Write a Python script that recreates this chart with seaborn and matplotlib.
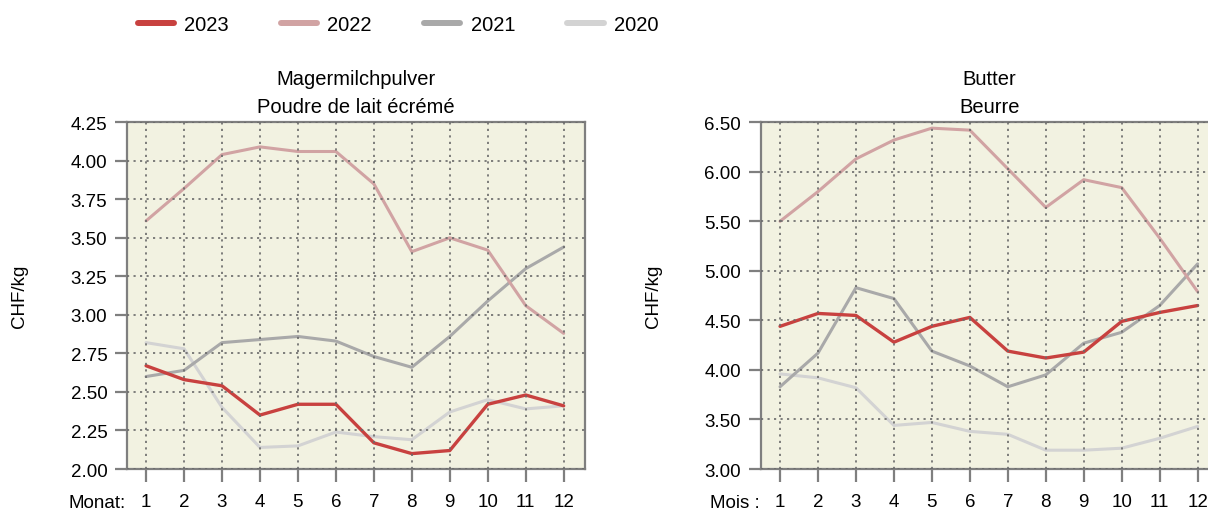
import pandas as pd
import matplotlib
matplotlib.use('Agg')
import matplotlib.pyplot as plt
from matplotlib.lines import Line2D
import seaborn as sns

# Monthly prices CHF/kg
months = list(range(1, 13))
years = ['2023', '2022', '2021', '2020']

smp_2023 = [2.67, 2.58, 2.54, 2.35, 2.42, 2.42, 2.17, 2.10, 2.12, 2.42, 2.48, 2.41]
smp_2022 = [3.61, 3.82, 4.04, 4.09, 4.06, 4.06, 3.85, 3.41, 3.50, 3.42, 3.06, 2.88]
smp_2021 = [2.60, 2.64, 2.82, 2.84, 2.86, 2.83, 2.73, 2.66, 2.86, 3.09, 3.30, 3.44]
smp_2020 = [2.82, 2.78, 2.40, 2.14, 2.15, 2.24, 2.21, 2.19, 2.37, 2.45, 2.39, 2.41]

butter_2023 = [4.44, 4.57, 4.55, 4.28, 4.44, 4.53, 4.19, 4.12, 4.18, 4.49, 4.58, 4.65]
butter_2022 = [5.50, 5.80, 6.13, 6.32, 6.44, 6.42, 6.03, 5.64, 5.92, 5.84, 5.33, 4.79]
butter_2021 = [3.83, 4.17, 4.83, 4.72, 4.19, 4.04, 3.83, 3.95, 4.27, 4.38, 4.65, 5.07]
butter_2020 = [3.96, 3.92, 3.82, 3.44, 3.47, 3.38, 3.35, 3.19, 3.19, 3.21, 3.31, 3.43]

smp_ticks = [2.00, 2.25, 2.50, 2.75, 3.00, 3.25, 3.50, 3.75, 4.00, 4.25]
butter_ticks = [3.00, 3.50, 4.00, 4.50, 5.00, 5.50, 6.00, 6.50]

smp = {'2023': smp_2023, '2022': smp_2022, '2021': smp_2021, '2020': smp_2020}
butter = {'2023': butter_2023, '2022': butter_2022, '2021': butter_2021, '2020': butter_2020}

colors = {'2023': '#C8413F', '2022': '#D1A3A3', '2021': '#A9A9A9', '2020': '#D3D3D3'}
widths = {'2023': 2.4, '2022': 2.2, '2021': 2.2, '2020': 2.2}

sns.set_style('white')
plt.rcParams['font.family'] = ['Liberation Sans', 'DejaVu Sans']
plt.rcParams['text.color'] = 'black'
plt.rcParams['axes.labelcolor'] = 'black'

grey = '#7F7F7F'
fs = 13.5
fig = plt.figure(figsize=(12.08, 5.10), dpi=100)
ax1 = fig.add_axes([0.1049, 0.0784, 0.379, 0.68])
ax2 = fig.add_axes([0.6297, 0.0784, 0.379, 0.68])


def long_df(series):
    rows = []
    for y in years:
        for m, v in zip(months, series[y]):
            rows.append({'Monat': m, 'Preis': v, 'Jahr': y})
    return pd.DataFrame(rows)


def draw(ax, series, ticks, title, month_word):
    df = long_df(series)
    ax.set_facecolor('#F2F2E1')
    # oldest year first so 2023 lies on top
    for y in years[::-1]:
        sns.lineplot(data=df[df['Jahr'] == y], x='Monat', y='Preis', ax=ax,
                     color=colors[y], linewidth=widths[y], legend=False)
    ax.set_xlim(0.49, 12.55)
    ax.set_ylim(ticks[0], ticks[-1])
    ax.set_xticks(months)
    ax.set_yticks(ticks)
    ax.set_yticklabels([f'{t:.2f}' for t in ticks])
    ax.grid(True, color='#6A6A6A', linestyle=(0, (1.3, 2.6)), linewidth=1.2)
    ax.set_axisbelow(False)
    for s in ax.spines.values():
        s.set_color(grey)
        s.set_linewidth(1.6)
    ax.tick_params(axis='both', colors=grey, labelcolor='black', length=9,
                   width=1.6, labelsize=fs, direction='out')
    ax.tick_params(axis='x', bottom=True, pad=8)
    ax.tick_params(axis='y', left=True, pad=5)
    ax.set_xlabel('')
    ax.set_ylabel('CHF/kg', fontsize=fs)
    ax.yaxis.set_label_coords(-0.215, 0.5)
    ax.set_title(title, fontsize=14.5, linespacing=1.65, pad=7)
    ax.annotate(month_word, xy=(0, 0), xycoords='axes fraction',
                xytext=(-1, -18), textcoords='offset points',
                ha='right', va='top', fontsize=fs)


draw(ax1, smp, smp_ticks, 'Magermilchpulver\nPoudre de lait écrémé', 'Monat:')
draw(ax2, butter, butter_ticks, 'Butter\nBeurre', 'Mois :')

handles = [Line2D([], [], color=colors[y], linewidth=4.3) for y in years]
fig.legend(handles, years, loc='center left',
           bbox_to_anchor=(0.099, 0.95), ncol=4, frameon=False, fontsize=14.5,
           handlelength=1.8, handletextpad=0.5, columnspacing=2.6)

plt.savefig('out.png', dpi=100)
